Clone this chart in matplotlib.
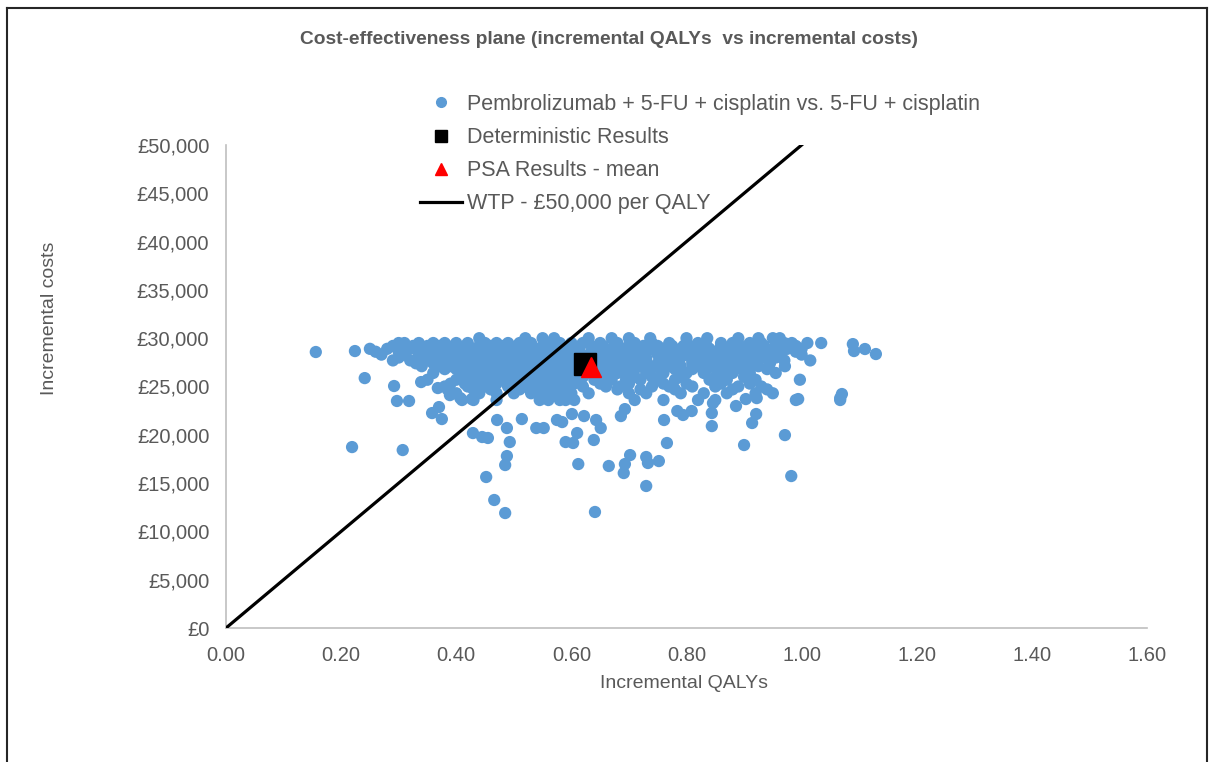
#!/usr/bin/env python3

import matplotlib
matplotlib.use("Agg")
import matplotlib.pyplot as plt
from matplotlib.lines import Line2D
from matplotlib.ticker import FuncFormatter


TITLE = "Cost-effectiveness plane (incremental QALYs  vs incremental costs)"
SERIES_LABEL = "Pembrolizumab + 5-FU + cisplatin vs. 5-FU + cisplatin"

# dense band of PSA runs, read row by row (cost level -> QALY positions)
band_costs = [30000, 29500, 29200, 28900, 28600, 28300, 28000, 27700,
              27400, 27100, 26800, 26400, 26000, 25700, 25300, 25000,
              24700, 24300, 23600]
band_qalys = [
    [0.44, 0.52, 0.55, 0.57, 0.63, 0.67, 0.70, 0.737, 0.80, 0.836,
     0.89, 0.925, 0.95, 0.962],
    [0.30, 0.31, 0.335, 0.36, 0.38, 0.40, 0.42, 0.45, 0.47, 0.49, 0.51,
     0.53, 0.56, 0.58, 0.60, 0.62, 0.65, 0.68, 0.71, 0.74, 0.77, 0.80,
     0.82, 0.86, 0.88, 0.91, 0.93, 0.97, 0.983, 1.01],
    [0.29, 0.325, 0.35, 0.37, 0.395, 0.415, 0.44, 0.46, 0.48, 0.505,
     0.525, 0.55, 0.575, 0.595, 0.615, 0.635, 0.655, 0.675, 0.70, 0.725,
     0.75, 0.775, 0.795, 0.815, 0.835, 0.86, 0.885, 0.905, 0.935, 0.955,
     0.99],
    [0.25, 0.28, 0.32, 0.345, 0.37, 0.39, 0.41, 0.43, 0.455, 0.475, 0.50,
     0.52, 0.545, 0.565, 0.59, 0.61, 0.64, 0.66, 0.69, 0.715, 0.74, 0.76,
     0.79, 0.81, 0.84, 0.87, 0.895, 0.92, 0.95, 0.975, 1.0],
    [0.26, 0.30, 0.34, 0.355, 0.38, 0.40, 0.42, 0.44, 0.465, 0.485, 0.51,
     0.53, 0.55, 0.57, 0.595, 0.615, 0.635, 0.655, 0.68, 0.705, 0.73,
     0.755, 0.78, 0.80, 0.825, 0.855, 0.875, 0.90, 0.93, 0.965, 0.99],
    [0.27, 0.31, 0.335, 0.36, 0.385, 0.405, 0.43, 0.45, 0.47, 0.495,
     0.515, 0.54, 0.56, 0.58, 0.60, 0.65, 0.67, 0.70, 0.72, 0.75, 0.77,
     0.80, 0.82, 0.85, 0.88, 0.91, 0.94, 0.96, 1.0],
    [0.30, 0.345, 0.365, 0.39, 0.41, 0.435, 0.455, 0.475, 0.49, 0.51,
     0.53, 0.555, 0.575, 0.595, 0.64, 0.66, 0.685, 0.705, 0.73, 0.755,
     0.775, 0.79, 0.815, 0.84, 0.865, 0.885, 0.905, 0.935, 0.955],
    [0.29, 0.32, 0.35, 0.375, 0.40, 0.42, 0.44, 0.46, 0.48, 0.50, 0.525,
     0.55, 0.57, 0.59, 0.61, 0.66, 0.68, 0.71, 0.73, 0.76, 0.78, 0.81,
     0.83, 0.86, 0.89, 0.924, 0.97, 1.015],
    [0.33, 0.36, 0.385, 0.405, 0.43, 0.45, 0.47, 0.495, 0.515, 0.54,
     0.56, 0.585, 0.605, 0.65, 0.675, 0.70, 0.725, 0.75, 0.765, 0.785,
     0.81, 0.835, 0.855, 0.88, 0.91, 0.945],
    [0.34, 0.37, 0.39, 0.415, 0.44, 0.465, 0.49, 0.51, 0.53, 0.555,
     0.575, 0.60, 0.67, 0.69, 0.72, 0.745, 0.77, 0.79, 0.82, 0.845, 0.87,
     0.90, 0.925, 0.971],
    [0.38, 0.40, 0.425, 0.455, 0.48, 0.50, 0.525, 0.545, 0.565, 0.59,
     0.615, 0.64, 0.66, 0.685, 0.71, 0.735, 0.755, 0.78, 0.81, 0.835,
     0.865, 0.895, 0.94],
    [0.36, 0.41, 0.43, 0.45, 0.475, 0.50, 0.52, 0.54, 0.56, 0.585, 0.61,
     0.63, 0.655, 0.68, 0.70, 0.73, 0.76, 0.80, 0.83, 0.86, 0.88, 0.91,
     0.955],
    [0.42, 0.445, 0.465, 0.49, 0.515, 0.535, 0.555, 0.575, 0.595, 0.62,
     0.645, 0.665, 0.71, 0.74, 0.79, 0.85, 0.90],
    [0.35, 0.40, 0.43, 0.46, 0.48, 0.51, 0.53, 0.55, 0.57, 0.60, 0.64,
     0.67, 0.695, 0.72, 0.75, 0.78, 0.84, 0.87, 0.92, 0.997],
    [0.39, 0.415, 0.44, 0.47, 0.50, 0.535, 0.555, 0.58, 0.605, 0.65, 0.70,
     0.76, 0.80, 0.86, 0.91],
    [0.38, 0.42, 0.45, 0.49, 0.52, 0.545, 0.565, 0.59, 0.62, 0.66, 0.685,
     0.74, 0.77, 0.81, 0.85, 0.89, 0.93],
    [0.385, 0.43, 0.46, 0.51, 0.54, 0.57, 0.595, 0.68, 0.72, 0.78, 0.88,
     0.94],
    [0.40, 0.44, 0.47, 0.50, 0.53, 0.555, 0.57, 0.58, 0.60, 0.63, 0.70,
     0.73, 0.79, 0.83, 0.87, 0.92, 0.95],
    [0.41, 0.43, 0.47, 0.545, 0.56, 0.58, 0.59, 0.605, 0.71, 0.76, 0.82,
     0.85, 0.99],
]

# scattered runs outside the band
outlier_qalys = [
    0.156, 0.224, 0.241, 0.219, 0.307, 0.292, 0.297, 0.318, 0.358, 0.370,
    0.375, 0.339, 0.368, 0.389, 0.407, 0.427, 0.429, 0.445, 0.455, 0.471,
    0.488, 0.493, 0.488, 0.485, 0.452, 0.466, 0.485, 0.514, 0.539, 0.552,
    0.575, 0.584, 0.590, 0.603, 0.610, 0.601, 0.622, 0.643, 0.651, 0.639,
    0.612, 0.665, 0.693, 0.691, 0.702, 0.641, 0.730, 0.733, 0.752, 0.730,
    0.766, 0.761, 0.686, 0.693, 0.844, 0.900, 0.914, 0.921, 0.971, 0.982,
    0.994, 0.886, 1.034, 1.067, 1.089, 1.091, 1.110, 1.129, 1.070, 1.067,
    0.784, 0.794, 0.809, 0.844, 0.846, 0.903, 0.922,
]
outlier_costs = [
    28570, 28670, 25870, 18730, 18420, 25050, 23500, 23500, 22250, 22870,
    21630, 25460, 24840, 24110, 23800, 23700, 20180, 19770, 19670, 21530,
    20700, 19250, 17800, 16870, 15630, 13250, 11900, 21630, 20700, 20700,
    21530, 21320, 19250, 19150, 20180, 22150, 21940, 21530, 20700, 19460,
    16970, 16770, 16970, 16040, 17900, 12010, 17700, 17080, 17280, 14700,
    19150, 21530, 21940, 22660, 20900, 18940, 21220, 22150, 19970, 15730,
    23700, 22980, 29500, 23800, 29390, 28670, 28880, 28360, 24220, 23600,
    22460, 22050, 22460, 22250, 23290, 23700, 23800,
]

deterministic = (0.624, 27320)
psa_mean = (0.634, 27010)
wtp_threshold = 50000
wtp_qalys = [0.0, 1.0]

x_ticks = [0.0, 0.2, 0.4, 0.6, 0.8, 1.0, 1.2, 1.4, 1.6]
y_ticks = [0, 5000, 10000, 15000, 20000, 25000, 30000, 35000, 40000,
           45000, 50000]

BLUE = "#5B9BD5"
GREY = "#595959"


def psa_points():
    """Flatten band rows and outliers into two lists."""
    qalys, costs = [], []
    for cost, row in zip(band_costs, band_qalys):
        qalys.extend(row)
        costs.extend([cost] * len(row))
    qalys.extend(outlier_qalys)
    costs.extend(outlier_costs)
    return qalys, costs


def main() -> None:
    plt.rcParams["font.family"] = ["Liberation Sans", "DejaVu Sans"]

    fig = plt.figure(figsize=(12.09, 7.62), dpi=100)
    ax = fig.add_axes([226 / 1209, 1 - 628 / 762,
                       (1147 - 226) / 1209, (628 - 145) / 762])

    qalys, costs = psa_points()
    ax.scatter(qalys, costs, s=78, color=BLUE, edgecolors="none",
               zorder=2)
    ax.plot(wtp_qalys, [q * wtp_threshold for q in wtp_qalys],
            color="black", lw=2.3, zorder=3)
    ax.plot(*deterministic, marker="s", ms=16, color="black",
            ls="none", zorder=4)
    ax.plot(*psa_mean, marker="^", ms=15, color="red", ls="none",
            zorder=5)

    ax.set_xlim(0, 1.6)
    ax.set_ylim(0, 50000)
    ax.set_xticks(x_ticks)
    ax.set_yticks(y_ticks)
    ax.xaxis.set_major_formatter(FuncFormatter(lambda v, p: f"{v:.2f}"))
    ax.yaxis.set_major_formatter(FuncFormatter(lambda v, p: f"£{v:,.0f}"))
    ax.tick_params(length=0, labelsize=14.5, colors=GREY)
    ax.tick_params(axis="x", pad=13)
    ax.tick_params(axis="y", pad=12)
    for side in ("top", "right"):
        ax.spines[side].set_visible(False)
    for side in ("left", "bottom"):
        ax.spines[side].set_color("#BFBFBF")
        ax.spines[side].set_linewidth(1.2)

    fig.text(684 / 1209, 1 - 683 / 762, "Incremental QALYs", ha="center",
             va="center", fontsize=14, color=GREY)
    fig.text(50 / 1209, 1 - 318 / 762, "Incremental costs", ha="center",
             va="center", rotation=90, fontsize=14, color=GREY)
    fig.text(609 / 1209, 1 - 39 / 762, TITLE, ha="center", va="center",
             fontsize=13.8, fontweight="bold", color=GREY)

    handles = [
        Line2D([], [], marker="o", ls="none", ms=7, color=BLUE),
        Line2D([], [], marker="s", ls="none", ms=9, color="black"),
        Line2D([], [], marker="^", ls="none", ms=9, color="red"),
        Line2D([], [], color="black", lw=2.3),
    ]
    labels = [SERIES_LABEL, "Deterministic Results", "PSA Results - mean",
              "WTP - £50,000 per QALY"]
    leg = fig.legend(handles, labels, loc="upper left",
                     bbox_to_anchor=(420 / 1209, 1 - 94 / 762),
                     frameon=False, fontsize=15.5, handlelength=1.95,
                     handletextpad=0.25, labelspacing=0.56, borderpad=0,
                     borderaxespad=0)
    for text in leg.get_texts():
        text.set_color(GREY)

    # chart-area frame as in the exported picture
    for xs, ys in (([7, 7], [762, 8]), ([7, 1207], [8, 8]),
                   ([1207, 1207], [8, 762])):
        fig.add_artist(Line2D([x / 1209 for x in xs],
                              [1 - y / 762 for y in ys],
                              color="#262626", lw=1.5))

    fig.savefig("out.png", dpi=100)
    plt.close(fig)


if __name__ == "__main__":
    main()
